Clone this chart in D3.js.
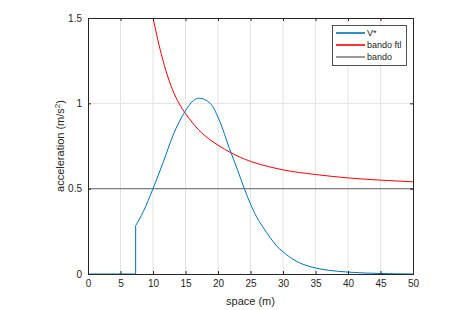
<!DOCTYPE html>
<html>
<head>
<meta charset="utf-8">
<script src="https://d3js.org/d3.v7.min.js"></script>
<style>
  body { margin: 0; background: #fff; }
  text { font-family: "Liberation Sans", Arial, sans-serif; fill: #262626; }
  .grid line { stroke: #e3e3e3; stroke-width: 1; }
</style>
</head>
<body>
<div id="chart"></div>
<script>
// V* curve
const vX = [0, 7.33, 7.33, 8.5, 10, 11.6, 13.1, 14.9, 16.2, 17.1, 18.8, 20.3, 21.75, 23, 24, 25, 26, 27, 28, 29, 30, 31, 32, 33, 35, 37, 40, 45, 50];
const vY = [0, 0, 0.283, 0.365, 0.5, 0.658, 0.814, 0.951, 1.016, 1.03, 1.0, 0.892, 0.736, 0.61, 0.505, 0.41, 0.33, 0.27, 0.215, 0.165, 0.13, 0.1, 0.076, 0.058, 0.035, 0.022, 0.011, 0.003, 0];
// bando ftl curve
const ftlX = [9.9, 11, 12, 13, 14, 15, 16, 17, 18, 20, 22, 25, 28, 30, 35, 40, 45, 50];
const ftlY = [1.52, 1.33, 1.19, 1.08, 1.0, 0.94, 0.89, 0.845, 0.81, 0.755, 0.71, 0.66, 0.627, 0.61, 0.583, 0.563, 0.55, 0.54];
// bando constant
const bandoX = [0, 50];
const bandoY = [0.5, 0.5];

const xTicks = [0, 5, 10, 15, 20, 25, 30, 35, 40, 45, 50];
const yTicks = [0, 0.5, 1, 1.5];
const legendNames = ["V*", "bando ftl", "bando"];
const colors = ["#0072BD", "#FF0000", "#808080"];

const width = 472, height = 310;
const margin = {left: 88, top: 18, right: 59, bottom: 36};
const iw = width - margin.left - margin.right;
const ih = height - margin.top - margin.bottom;

const svg = d3.select("#chart").append("svg")
    .attr("width", width).attr("height", height);

const x = d3.scaleLinear().domain([0, 50]).range([margin.left, margin.left + iw]);
const y = d3.scaleLinear().domain([0, 1.5]).range([margin.top + ih, margin.top]);

svg.append("defs").append("clipPath").attr("id", "clip")
  .append("rect").attr("x", margin.left).attr("y", margin.top).attr("width", iw).attr("height", ih);

// grid
const grid = svg.append("g").attr("class", "grid");
grid.selectAll(".gx").data(xTicks.slice(1, -1)).join("line")
    .attr("x1", d => x(d)).attr("x2", d => x(d))
    .attr("y1", margin.top).attr("y2", margin.top + ih);
grid.selectAll(".gy").data(yTicks.slice(1, -1)).join("line")
    .attr("x1", margin.left).attr("x2", margin.left + iw)
    .attr("y1", d => y(d)).attr("y2", d => y(d));

const plot = svg.append("g").attr("clip-path", "url(#clip)");

// bando line
plot.append("path")
    .attr("d", d3.line().x(d => x(d[0])).y(d => y(d[1]))(d3.zip(bandoX, bandoY)))
    .attr("fill", "none").attr("stroke", colors[2]).attr("stroke-width", 1.3);

// bando ftl
plot.append("path")
    .attr("d", d3.line().curve(d3.curveMonotoneX).x(d => x(d[0])).y(d => y(d[1]))(d3.zip(ftlX, ftlY)))
    .attr("fill", "none").attr("stroke", colors[1]).attr("stroke-width", 1);

// V*
const vPts = d3.zip(vX, vY);
const linLine = d3.line().x(d => x(d[0])).y(d => y(d[1]));
const monoLine = d3.line().curve(d3.curveMonotoneX).x(d => x(d[0])).y(d => y(d[1]));
const vPath = linLine(vPts.slice(0, 3)) + monoLine(vPts.slice(2)).replace(/^M/, "L");
plot.append("path")
    .attr("d", vPath)
    .attr("fill", "none").attr("stroke", colors[0]).attr("stroke-width", 1);

// axes box
const axisColor = "#262626";
svg.append("g").attr("transform", `translate(0,${margin.top + ih})`)
    .call(d3.axisBottom(x).tickValues(xTicks).tickSize(-3).tickPadding(6))
    .call(g => g.select(".domain").attr("stroke", axisColor))
    .call(g => g.selectAll(".tick line").attr("stroke", axisColor))
    .call(g => g.selectAll("text").attr("font-size", 10).attr("fill", axisColor));
svg.append("g").attr("transform", `translate(0,${margin.top})`)
    .call(d3.axisTop(x).tickValues(xTicks).tickSize(-3).tickFormat(""))
    .call(g => g.select(".domain").attr("stroke", axisColor))
    .call(g => g.selectAll(".tick line").attr("stroke", axisColor));
svg.append("g").attr("transform", `translate(${margin.left},0)`)
    .call(d3.axisLeft(y).tickValues(yTicks).tickSize(-3).tickPadding(6).tickFormat(d3.format("~g")))
    .call(g => g.select(".domain").attr("stroke", axisColor))
    .call(g => g.selectAll(".tick line").attr("stroke", axisColor))
    .call(g => g.selectAll("text").attr("font-size", 10).attr("fill", axisColor));
svg.append("g").attr("transform", `translate(${margin.left + iw},0)`)
    .call(d3.axisRight(y).tickValues(yTicks).tickSize(-3).tickFormat(""))
    .call(g => g.select(".domain").attr("stroke", axisColor))
    .call(g => g.selectAll(".tick line").attr("stroke", axisColor));

// axis labels
svg.append("text")
    .attr("x", margin.left + iw / 2).attr("y", 305)
    .attr("text-anchor", "middle").attr("font-size", 11)
    .text("space (m)");
const yl = svg.append("text")
    .attr("transform", `translate(64,${margin.top + ih / 2}) rotate(-90)`)
    .attr("text-anchor", "middle").attr("font-size", 11);
yl.append("tspan").text("acceleration (m/s");
yl.append("tspan").attr("baseline-shift", "super").attr("font-size", 8).text("2");
yl.append("tspan").text(")");

// legend
const lg = svg.append("g").attr("transform", "translate(332,25)");
lg.append("rect").attr("x", 0.5).attr("y", 0.5).attr("width", 74).attr("height", 40)
    .attr("fill", "#fff").attr("stroke", axisColor).attr("stroke-width", 0.8);
const item = lg.selectAll(".item").data(legendNames).join("g")
    .attr("class", "item")
    .attr("transform", (d, i) => `translate(0,${8 + i * 12})`);
item.append("line").attr("x1", 4).attr("x2", 33)
    .style("stroke", d => colors[legendNames.indexOf(d)])
    .style("stroke-width", 1.6);
item.append("text").attr("x", 35).attr("dy", "0.35em").attr("font-size", 9)
    .attr("fill", "#000").text(d => d);
</script>
</body>
</html>
